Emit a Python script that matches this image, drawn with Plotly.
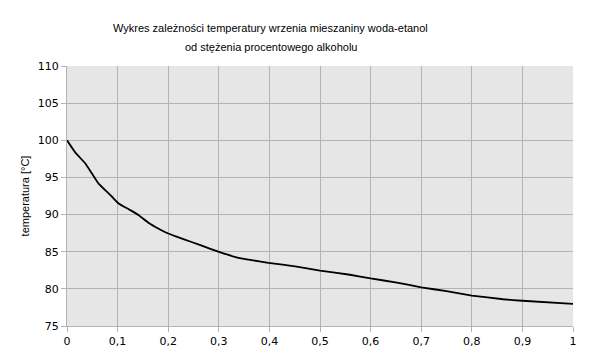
import plotly.graph_objects as go

# ethanol fraction (x) and boiling temperature (°C)
fraction = [0.0, 0.017, 0.036, 0.049, 0.062, 0.089, 0.102, 0.125, 0.141, 0.161, 0.181,
            0.2, 0.23, 0.265, 0.299, 0.335, 0.362, 0.398, 0.454, 0.5, 0.559, 0.6, 0.652,
            0.7, 0.75, 0.8, 0.862, 0.9, 1.0]
temperature = [100.0, 98.3, 96.9, 95.55, 94.2, 92.4, 91.5, 90.6, 89.95, 88.9, 88.1,
               87.45, 86.7, 85.85, 85.0, 84.25, 83.9, 83.5, 83.0, 82.45, 81.9, 81.4, 80.85,
               80.2, 79.7, 79.1, 78.6, 78.4, 77.97]

x_ticks = [0, 0.1, 0.2, 0.3, 0.4, 0.5, 0.6, 0.7, 0.8, 0.9, 1]
y_ticks = [75, 80, 85, 90, 95, 100, 105, 110]

title_lines = ["Wykres zależności temperatury wrzenia mieszaniny woda-etanol",
               "od stężenia procentowego alkoholu"]
y_title = "temperatura [°C]"

narrow = "Liberation Sans, Arial, sans-serif"

W, H = 589, 350  # page body adds an 8px offset

fig = go.Figure()
fig.add_trace(go.Scatter(x=fraction, y=temperature, mode="lines",
                         line=dict(color="#000000", width=1.8, shape="spline", smoothing=0.3),
                         showlegend=False))

fig.update_layout(
    width=W, height=H,
    margin=dict(l=59, r=24, t=58, b=32),
    paper_bgcolor="#ffffff",
    plot_bgcolor="#e6e6e6",
    separators=", ",
    font=dict(family="DejaVu Sans", size=11, color="#000000"),
)
for txt, yy in zip(title_lines, [1.146, 1.073]):
    fig.add_annotation(text=txt, xref="paper", yref="paper", x=0.403, y=yy,
                       xanchor="center", yanchor="middle", showarrow=False,
                       font=dict(family=narrow, size=11, color="#000000"))

fig.update_xaxes(range=[0, 1], tickvals=x_ticks, showgrid=True, gridcolor="#b3b3b3", gridwidth=1,
                 showline=True, linecolor="#b3b3b3", mirror=False, zeroline=False,
                 ticks="outside", ticklen=5, tickcolor="#b3b3b3", automargin=False,
                 tickfont=dict(family="DejaVu Sans", size=11))
fig.update_yaxes(range=[75, 110], tickvals=y_ticks, showgrid=True, gridcolor="#b3b3b3", gridwidth=1,
                 showline=True, linecolor="#b3b3b3", zeroline=False,
                 ticks="outside", ticklen=5, tickcolor="#b3b3b3", automargin=False,
                 title=dict(text=y_title, standoff=5, font=dict(family=narrow, size=11)),
                 tickfont=dict(family="DejaVu Sans", size=11))

fig.write_html("out.html")
